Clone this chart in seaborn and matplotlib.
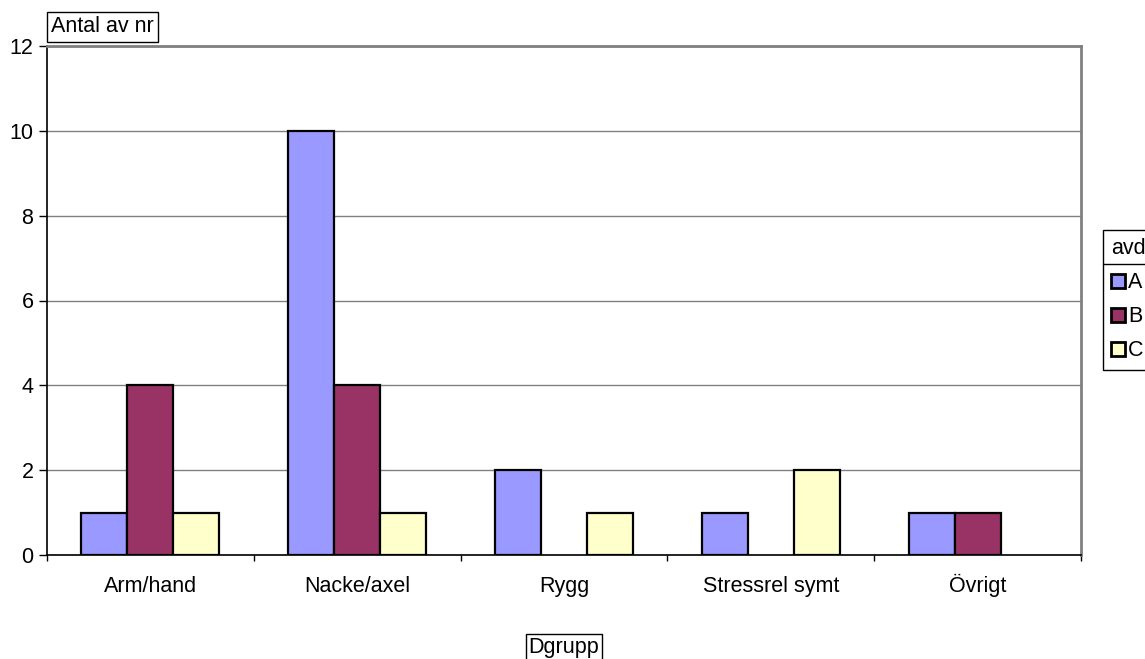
import matplotlib
matplotlib.use("Agg")
import matplotlib.pyplot as plt
from matplotlib.patches import Patch
from matplotlib.lines import Line2D
from matplotlib.ticker import FixedLocator, NullFormatter, FixedFormatter
import seaborn as sns
import pandas as pd

# Data
categories = ["Arm/hand", "Nacke/axel", "Rygg", "Stressrel symt", "Övrigt"]
series_names = ["A", "B", "C"]
values_a = [1, 10, 2, 1, 1]
values_b = [4, 4, 0, 0, 1]
values_c = [1, 1, 1, 2, 0]
y_ticks = [0, 2, 4, 6, 8, 10, 12]
colors = ["#9999FF", "#993366", "#FFFFCC"]

df = pd.DataFrame({
    "Dgrupp": categories * 3,
    "avd": [s for s in series_names for _ in categories],
    "Antal av nr": values_a + values_b + values_c,
})

sns.set_theme(style="white")
plt.rcParams["font.family"] = ["Liberation Sans", "DejaVu Sans"]
plt.rcParams["text.color"] = "black"
plt.rcParams["axes.labelcolor"] = "black"
plt.rcParams["xtick.color"] = "black"
plt.rcParams["ytick.color"] = "black"
FS = 15.5

W, H = 1145, 659
fig = plt.figure(figsize=(W / 100, H / 100), dpi=100)
ax = fig.add_axes([47 / W, 1 - 555 / H, (1081 - 47) / W, (555 - 46) / H])

sns.barplot(data=df, x="Dgrupp", y="Antal av nr", hue="avd",
            hue_order=series_names, order=categories,
            palette=colors, saturation=1, width=0.667,
            edgecolor="black", linewidth=1.6, legend=False, ax=ax)

# empty bars leave no outline on the baseline
for bar in ax.patches:
    if bar.get_height() == 0:
        bar.set_linewidth(0)

ax.set_xlim(-0.5, len(categories) - 0.5)
ax.set_ylim(y_ticks[0], y_ticks[-1])
ax.set_yticks(y_ticks)
ax.set_yticklabels([str(t) for t in y_ticks], fontsize=FS, color="black")

# category labels on minor ticks, boundary ticks on major ticks
ax.xaxis.set_major_locator(FixedLocator([i - 0.5 for i in range(len(categories) + 1)]))
ax.xaxis.set_major_formatter(NullFormatter())
ax.xaxis.set_minor_locator(FixedLocator(list(range(len(categories)))))
ax.xaxis.set_minor_formatter(FixedFormatter(categories))
ax.tick_params(axis="x", which="major", direction="out", length=4.6, width=1, color="black", bottom=True)
ax.tick_params(axis="x", which="minor", length=0, pad=26.6, labelsize=FS, labelcolor="black", bottom=True)
ax.tick_params(axis="y", direction="out", length=5.5, width=1, color="black", pad=4.3, left=True)
for lbl in ax.get_xticklabels(minor=True):
    lbl.set_verticalalignment("baseline")

ax.set_xlabel("")
ax.set_ylabel("")

ax.yaxis.grid(True, color="#808080", linewidth=1)
ax.set_axisbelow(True)
for side in ("top", "right"):
    ax.spines[side].set_color("#808080")
    ax.spines[side].set_linewidth(2)
for side in ("left", "bottom"):
    ax.spines[side].set_color("black")
    ax.spines[side].set_linewidth(1.2)

box = dict(boxstyle="square,pad=0.2", facecolor="white", edgecolor="black", linewidth=1)
fig.text(51 / W, 1 - 27 / H, "Antal av nr", fontsize=FS, ha="left", va="center", bbox=box)
box2 = dict(boxstyle="square,pad=0.12", facecolor="white", edgecolor="black", linewidth=1)
fig.text(564 / W, 1 - 647 / H, "Dgrupp", fontsize=FS, ha="center", va="center", bbox=box2)

handles = [Patch(facecolor=c, edgecolor="black", linewidth=2) for c in colors]
leg = ax.legend(handles, series_names, title="avd", loc="upper left",
                bbox_to_anchor=(1103 / W, 1 - 230 / H), bbox_transform=fig.transFigure,
                fontsize=FS, title_fontsize=FS, frameon=True, fancybox=False,
                edgecolor="black", framealpha=1, borderaxespad=0, borderpad=0.39,
                handlelength=0.62, handleheight=0.62, handletextpad=0.15,
                labelspacing=0.6, alignment="left")
leg.get_frame().set_linewidth(1)
leg.get_title().set_color("black")
for t in leg.get_texts():
    t.set_color("black")
fig.add_artist(Line2D([1103 / W, 1], [1 - 264 / H, 1 - 264 / H], color="black", linewidth=1,
                      transform=fig.transFigure))

fig.savefig("out.png", dpi=100)
